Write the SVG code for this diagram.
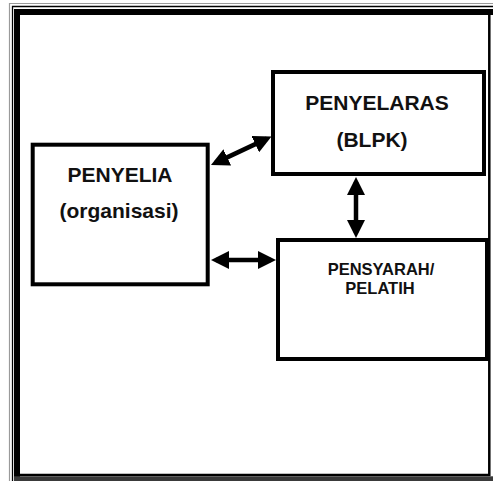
<svg xmlns="http://www.w3.org/2000/svg" width="493" height="481" viewBox="0 0 493 481">
  <style>
    .box { fill: #ffffff; stroke: #000000; stroke-width: 4; }
    .lbl { font-family: "Liberation Sans", Arial, sans-serif; font-weight: bold; fill: #111111; text-anchor: middle; }
    .big { font-size: 21px; }
    .small { font-size: 16.5px; }
    .conn { stroke: #000000; stroke-width: 4.5; fill: none; marker-start: url(#ah); marker-end: url(#ah); }
  </style>
  <defs>
    <marker id="ah" markerUnits="userSpaceOnUse" viewBox="0 0 18 18" refX="13" refY="9" markerWidth="18" markerHeight="18" orient="auto-start-reverse">
      <path d="M0,0 L18,9 L0,18 Z" fill="#000000"/>
    </marker>
  </defs>
  <rect x="0" y="0" width="493" height="481" fill="#ffffff"/>
  <g id="frame">
    <path d="M9.5,481 V3.5 H493" fill="none" stroke="#9a9a9a" stroke-width="1.2"/>
    <path d="M12.5,481 V6.5 H493" fill="none" stroke="#000000" stroke-width="1.3"/>
    <path d="M17,481 V12 H493" fill="none" stroke="#000000" stroke-width="6"/>
    <path d="M489.3,12 V475 H17" fill="none" stroke="#000000" stroke-width="2.5"/>
    <rect x="14" y="476.3" width="479" height="4.7" fill="#3a3a3a"/>
  </g>
  <g id="penyelia">
    <rect class="box" x="32.7" y="144.7" width="175" height="139.6"/>
    <text class="lbl big" x="120" y="182">PENYELIA</text>
    <text class="lbl big" x="119" y="218">(organisasi)</text>
  </g>
  <g id="penyelaras">
    <rect class="box" x="273" y="72" width="211" height="102"/>
    <text class="lbl big" x="377" y="110">PENYELARAS</text>
    <text class="lbl big" x="372" y="147">(BLPK)</text>
  </g>
  <g id="pensyarah">
    <rect class="box" x="278" y="240" width="209" height="119"/>
    <text class="lbl small" x="381" y="275">PENSYARAH/</text>
    <text class="lbl small" x="380" y="294">PELATIH</text>
  </g>
  <g id="connectors">
    <line class="conn" x1="215.5" y1="162.9" x2="267" y2="138.6"/>
    <line class="conn" x1="216" y1="260" x2="271" y2="260"/>
    <line class="conn" x1="356" y1="182" x2="356" y2="233"/>
  </g>
</svg>
